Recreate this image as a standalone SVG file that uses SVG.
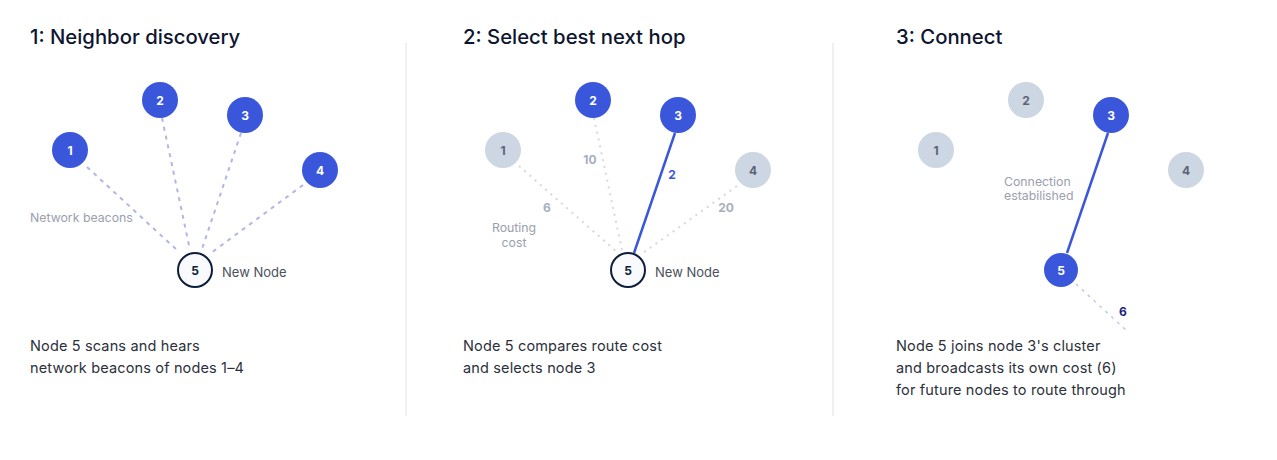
<svg xmlns="http://www.w3.org/2000/svg" width="1277" height="460" viewBox="0 0 1277 460">
<style>
.title{font-family:Inter,"Noto Sans",sans-serif;font-size:20.3px;font-weight:500;fill:#0d1530}
.body{font-family:Inter,"Noto Sans",sans-serif;font-size:14.5px;letter-spacing:0.15px;fill:#2b303b}
.note{font-family:Inter,"Noto Sans",sans-serif;font-size:12.3px;fill:#9aa0ad}
.lbl{font-family:Inter,"Noto Sans",sans-serif;font-size:13px;fill:#4a505c}
.cost{font-family:Inter,"Noto Sans",sans-serif;font-size:12px;font-weight:700;fill:#a9aec0}
.num{font-family:Inter,"Noto Sans",sans-serif;font-size:12px;font-weight:700;text-anchor:middle;dominant-baseline:central}
.blue circle{fill:#3a57dc}
.blue text{fill:#ffffff}
.gray circle{fill:#cdd6e3}
.gray text{fill:#5b6477}
.new circle{fill:#f8fafd;stroke:#0f1d3c;stroke-width:2}
.new text{fill:#0f1d3c}
.beacon{stroke:#b1b6e6;stroke-width:2;stroke-dasharray:4 5;fill:none}
.faint{stroke:#d3d8e6;stroke-width:2;stroke-dasharray:2 5;fill:none}
.link{stroke:#3a57dc;stroke-width:2.5;fill:none}
.div{stroke:#e8ebf0;stroke-width:1.5}
</style>
<rect width="1277" height="460" fill="#ffffff"/>
<g id="dividers">
<line class="div" x1="406" y1="43" x2="406" y2="416"/>
<line class="div" x1="833" y1="43" x2="833" y2="416"/>
</g>
<g id="connectors">
<line class="beacon" x1="87" y1="167" x2="178" y2="251"/>
<line class="beacon" x1="162" y1="118" x2="190" y2="250"/>
<line class="beacon" x1="241" y1="133" x2="202" y2="249"/>
<line class="beacon" x1="303" y1="185" x2="211" y2="253"/>
<line class="faint" x1="519" y1="166" x2="617" y2="252"/>
<line class="faint" x1="594" y1="118" x2="622" y2="250"/>
<line class="faint" x1="737" y1="186" x2="643" y2="253"/>
<line class="link" x1="675" y1="133" x2="634" y2="253"/>
<line class="link" x1="1108" y1="133" x2="1067" y2="253"/>
<line x1="1076" y1="284" x2="1127" y2="331" stroke="#c3c7ec" stroke-width="1.5" stroke-dasharray="3 5"/>
</g>
<g id="titles">
<text class="title" x="30" y="44">1: Neighbor discovery</text>
<text class="title" x="463" y="44">2: Select best next hop</text>
<text class="title" x="896" y="44">3: Connect</text>
</g>
<g id="p1-node1" class="blue"><circle cx="70" cy="150" r="18"/><text class="num" x="70" y="150">1</text></g>
<g id="p1-node2" class="blue"><circle cx="160" cy="100" r="18"/><text class="num" x="160" y="100">2</text></g>
<g id="p1-node3" class="blue"><circle cx="245" cy="115" r="18"/><text class="num" x="245" y="115">3</text></g>
<g id="p1-node4" class="blue"><circle cx="320" cy="170" r="18"/><text class="num" x="320" y="170">4</text></g>
<g id="p1-node5" class="new"><circle cx="195" cy="270" r="17"/><text class="num" x="195" y="270">5</text></g>
<text class="note" x="30" y="222">Network beacons</text>
<text class="lbl" x="222" y="277">New Node</text>
<g id="p2-node1" class="gray"><circle cx="503" cy="150" r="18"/><text class="num" x="503" y="150">1</text></g>
<g id="p2-node2" class="blue"><circle cx="593" cy="100" r="18"/><text class="num" x="593" y="100">2</text></g>
<g id="p2-node3" class="blue"><circle cx="678" cy="115" r="18"/><text class="num" x="678" y="115">3</text></g>
<g id="p2-node4" class="gray"><circle cx="753" cy="170" r="18"/><text class="num" x="753" y="170">4</text></g>
<g id="p2-node5" class="new"><circle cx="628" cy="270" r="17"/><text class="num" x="628" y="270">5</text></g>
<text class="cost" x="590" y="164" text-anchor="middle">10</text>
<text class="cost" x="547" y="212" text-anchor="middle">6</text>
<text class="cost" x="672" y="179" text-anchor="middle" style="fill:#3a57dc">2</text>
<text class="cost" x="726" y="212" text-anchor="middle">20</text>
<text class="note" x="514" y="232" text-anchor="middle">Routing</text>
<text class="note" x="514" y="247" text-anchor="middle">cost</text>
<text class="lbl" x="655" y="277">New Node</text>
<g id="p3-node1" class="gray"><circle cx="936" cy="150" r="18"/><text class="num" x="936" y="150">1</text></g>
<g id="p3-node2" class="gray"><circle cx="1026" cy="100" r="18"/><text class="num" x="1026" y="100">2</text></g>
<g id="p3-node3" class="blue"><circle cx="1111" cy="115" r="18"/><text class="num" x="1111" y="115">3</text></g>
<g id="p3-node4" class="gray"><circle cx="1186" cy="170" r="18"/><text class="num" x="1186" y="170">4</text></g>
<g id="p3-node5" class="blue"><circle cx="1061" cy="270" r="17"/><text class="num" x="1061" y="270">5</text></g>
<text class="note" x="1004" y="186">Connection</text>
<text class="note" x="1004" y="200">estabilished</text>
<text class="cost" x="1123" y="316" text-anchor="middle" style="fill:#1a1f80">6</text>
<g id="captions">
<text class="body" x="30" y="351">Node 5 scans and hears</text>
<text class="body" x="30" y="373">network beacons of nodes 1–4</text>
<text class="body" x="463" y="351">Node 5 compares route cost</text>
<text class="body" x="463" y="373">and selects node 3</text>
<text class="body" x="896" y="351">Node 5 joins node 3's cluster</text>
<text class="body" x="896" y="373">and broadcasts its own cost (6)</text>
<text class="body" x="896" y="395">for future nodes to route through</text>
</g>
</svg>
